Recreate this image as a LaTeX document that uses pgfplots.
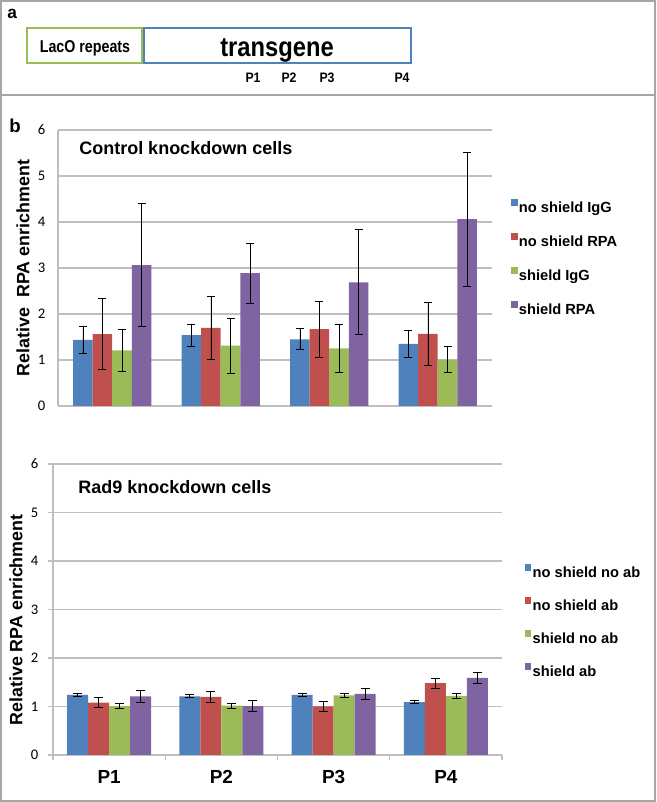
\documentclass[border=0pt]{standalone}
\usepackage{fontspec}
\setmainfont{Liberation Sans}
\newfontfamily\calibri{Carlito}
\usepackage{graphicx}
\usepackage{pgfplots}
\pgfplotsset{compat=1.18}
\definecolor{cblue}{HTML}{4F81BD}
\definecolor{cred}{HTML}{C0504D}
\definecolor{cgreen}{HTML}{9BBB59}
\definecolor{cpurple}{HTML}{8064A2}
\definecolor{gridgray}{HTML}{BFBFBF}
\definecolor{framegray}{HTML}{A6A6A6}

\pgfplotsset{
  rpa/.style={
    scale only axis,
    ybar=0pt,
    xmin=-0.5, xmax=3.5,
    ymin=0, ymax=6,
    ytick={0,1,2,3,4,5,6},
    axis x line*=bottom,
    axis y line*=left,
    axis line style={gridgray, line width=0.9pt},
    ymajorgrids,
    grid style={gridgray, line width=0.9pt},
    major tick style={gridgray, line width=0.9pt},
    tick align=outside,
    major tick length=4pt,
    /pgf/number format/assume math mode=true,
    yticklabel style={font=\calibri\fontsize{11}{13}\selectfont, text=black},
    ylabel style={font=\bfseries\fontsize{13.4}{15}\selectfont, anchor=center},
    legend cell align=left,
  },
  eb/.style={error bars/.cd, y dir=both, y explicit,
    error bar style={black, line width=0.6pt},
    error mark options={rotate=90, mark size=#1, black, line width=0.6pt}},
}

\begin{document}
\begin{tikzpicture}
% ---------- top chart ----------
\begin{axis}[rpa,
  at={(43.5pt,297pt)}, anchor=south west,
  width=325.5pt, height=207pt,
  bar width=0.18,
  xtick=\empty,
  ytick style={draw=none},
  yticklabel style={xshift=-2pt},
  ylabel={Relative\ \ RPA enrichment},
  ylabel style={at={(axis description cs:-0.0806,0.5)}},
  legend image code/.code={\fill[#1, draw=none] (0pt,2pt) rectangle (5pt,7pt);},
  legend style={at={(1.043,0.750)}, anchor=north west, draw=none, fill=none,
    inner sep=0pt, row sep=12pt, font=\bfseries\fontsize{11}{13}\selectfont,
    nodes={inner sep=1pt, text height=8.5pt, text depth=2.5pt}},
]
\addplot[fill=cblue, draw=none, eb=3pt] coordinates {
  (0,1.44) +- (0,0.30) (1,1.54) +- (0,0.235) (2,1.45) +- (0,0.23) (3,1.35) +- (0,0.285)};
\addplot[fill=cred, draw=none, eb=3pt] coordinates {
  (0,1.56) +- (0,0.77) (1,1.70) +- (0,0.685) (2,1.67) +- (0,0.61) (3,1.57) +- (0,0.68)};
\addplot[fill=cgreen, draw=none, eb=3pt] coordinates {
  (0,1.21) +- (0,0.455) (1,1.31) +- (0,0.595) (2,1.25) +- (0,0.53) (3,1.01) +- (0,0.29)};
\addplot[fill=cpurple, draw=none, eb=3pt] coordinates {
  (0,3.06) +- (0,1.34) (1,2.89) +- (0,0.65) (2,2.69) +- (0,1.14) (3,4.06) +- (0,1.45)};
\legend{no shield IgG, no shield RPA, shield IgG, shield RPA}
\end{axis}

% ---------- bottom chart ----------
\begin{axis}[rpa,
  at={(39.75pt,35.25pt)}, anchor=south west,
  width=336.75pt, height=218.25pt,
  bar width=0.187,
  xtick={-0.5,0.5,1.5,2.5,3.5},
  x tick label as interval,
  xticklabels={P1,P2,P3,P4},
  xticklabel style={font=\bfseries\fontsize{14.2}{16}\selectfont, text=black, yshift=-4pt},
  yticklabel style={xshift=-3.5pt},
  ylabel={Relative RPA enrichment},
  ylabel style={at={(axis description cs:-0.0824,0.464)}},
  legend image code/.code={\fill[#1, draw=none] (0pt,2pt) rectangle (5pt,7pt);},
  legend style={at={(1.050,0.656)}, anchor=north west, draw=none, fill=none,
    inner sep=0pt, row sep=11.25pt, font=\bfseries\fontsize{11}{13}\selectfont,
    nodes={inner sep=1pt, text height=8.5pt, text depth=2.5pt}},
]
\addplot[fill=cblue, draw=none, eb=3.4pt] coordinates {
  (0,1.24) +- (0,0.03) (1,1.21) +- (0,0.03) (2,1.24) +- (0,0.03) (3,1.09) +- (0,0.03)};
\addplot[fill=cred, draw=none, eb=3.4pt] coordinates {
  (0,1.08) +- (0,0.10) (1,1.20) +- (0,0.11) (2,1.00) +- (0,0.10) (3,1.48) +- (0,0.10)};
\addplot[fill=cgreen, draw=none, eb=3.4pt] coordinates {
  (0,1.01) +- (0,0.05) (1,1.02) +- (0,0.05) (2,1.23) +- (0,0.05) (3,1.22) +- (0,0.05)};
\addplot[fill=cpurple, draw=none, eb=3.4pt] coordinates {
  (0,1.21) +- (0,0.12) (1,1.01) +- (0,0.11) (2,1.26) +- (0,0.11) (3,1.59) +- (0,0.12)};
\legend{no shield no ab, no shield ab, shield no ab, shield ab}
\end{axis}

% ---------- panel a and frame (pixel coordinates) ----------
\begin{scope}[yshift=601.5pt, x=0.75pt, y=-0.75pt]
\draw[framegray, line width=1.5pt] (1,1) rectangle (655,801);
\draw[framegray, line width=1.5pt] (1,95) -- (655,95);
\draw[cgreen, line width=1.6pt] (27,28) rectangle (142,63);
\draw[cblue, line width=1.6pt] (144,28) rectangle (411,63);
\node[anchor=base, font=\bfseries\fontsize{10.7}{12}\selectfont] at (85,52.7) {\scalebox{1}[1.2]{LacO repeats}};
\node[anchor=base, font=\bfseries\fontsize{17.8}{20}\selectfont] at (277,57) {\scalebox{1}[1.15]{transgene}};
\node[anchor=base, font=\bfseries\fontsize{9.2}{11}\selectfont] at (253,83) {\scalebox{1}[1.12]{P1}};
\node[anchor=base, font=\bfseries\fontsize{9.2}{11}\selectfont] at (289,83) {\scalebox{1}[1.12]{P2}};
\node[anchor=base, font=\bfseries\fontsize{9.2}{11}\selectfont] at (327,83) {\scalebox{1}[1.12]{P3}};
\node[anchor=base, font=\bfseries\fontsize{9.2}{11}\selectfont] at (402,83) {\scalebox{1}[1.12]{P4}};
\node[anchor=base west, inner sep=0pt, font=\bfseries\fontsize{13}{15}\selectfont] at (7,19) {a};
\node[anchor=base west, inner sep=0pt, font=\bfseries\fontsize{14}{16}\selectfont] at (9,133) {b};
\node[anchor=base west, inner sep=0pt, font=\bfseries\fontsize{13.5}{16}\selectfont] at (79,155) {Control knockdown cells};
\node[anchor=base west, inner sep=0pt, font=\bfseries\fontsize{13.5}{16}\selectfont] at (78,494) {Rad9 knockdown cells};
\end{scope}
\pgfresetboundingbox
\path[use as bounding box] (0,0) rectangle (492pt,601.5pt);
\end{tikzpicture}
\end{document}
